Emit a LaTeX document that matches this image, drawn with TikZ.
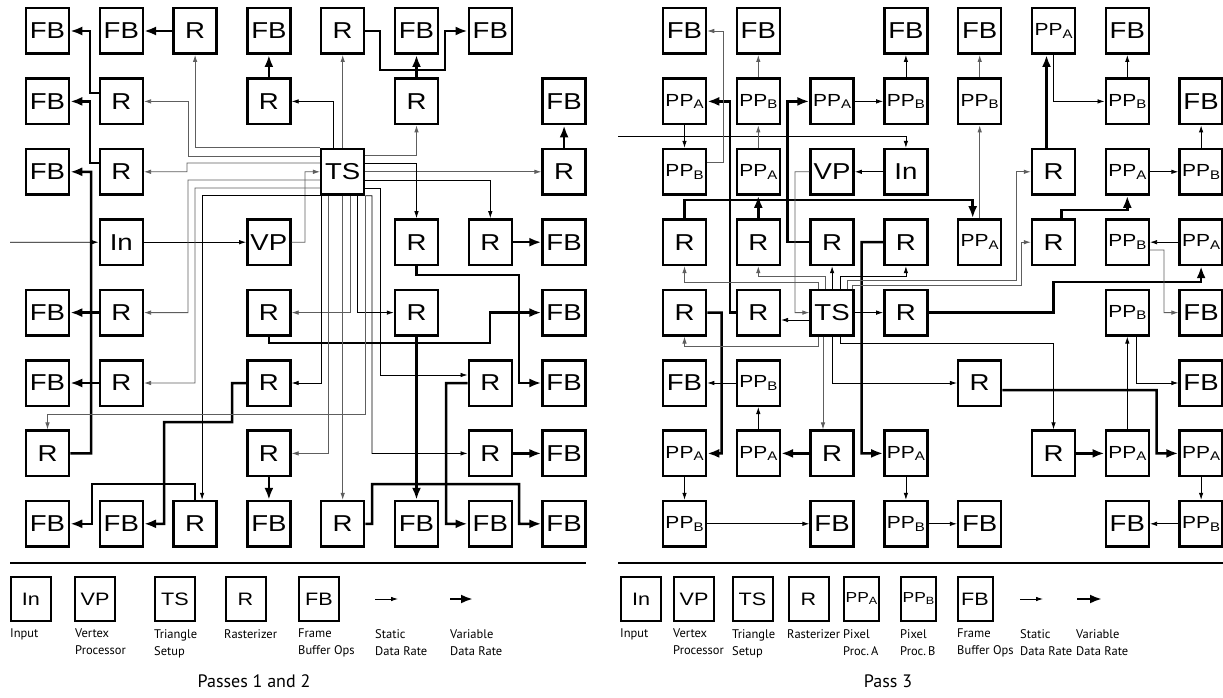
\documentclass[tikz,border=0pt]{standalone}
\usepackage{fontspec}
\usetikzlibrary{arrows.meta}
\setmainfont{Liberation Sans}
\newfontfamily\boxfont[FakeStretch=1.2]{Liberation Sans}
\newfontfamily\lblfont{PT Sans}
\definecolor{linegray}{HTML}{5E5E5E}
% PP_A / PP_B labels
\newcommand{\ppA}{{\fontsize{17.5}{17.5}\selectfont PP\raisebox{-2.5pt}{\fontsize{12.5}{12.5}\selectfont A}}}
\newcommand{\ppB}{{\fontsize{17.5}{17.5}\selectfont PP\raisebox{-2.5pt}{\fontsize{12.5}{12.5}\selectfont B}}}
\newcommand{\legpp}[1]{{\fontsize{14.5}{14.5}\selectfont PP\raisebox{-2pt}{\fontsize{10.5}{10.5}\selectfont #1}}}

\begin{document}
\begin{tikzpicture}[x=1pt, y=-1pt,
  blk/.style={draw, fill=white, line width=2.5pt, minimum width=43pt, minimum height=45.5pt, inner sep=0pt, font=\boxfont\fontsize{23}{23}\selectfont},
  legbox/.style={draw, line width=2pt, minimum width=40pt, minimum height=44pt, inner sep=0pt, font=\boxfont\fontsize{18}{18}\selectfont},
  leglbl/.style={anchor=north west, align=left, inner sep=0pt, font=\lblfont\fontsize{12.5}{17}\selectfont},
  sr/.style={line width=0.8pt, -{Latex[length=7pt,width=4.5pt]}},
  var/.style={line width=2.5pt, -{Latex[length=12pt,width=9pt]}},
  pale/.style={linegray}]
  \useasboundingbox (0,0) rectangle (1223,698);
  \fill[white] (0,0) rectangle (1223,698);

  % Passes 1 and 2
  \foreach \col/\row/\lbl in {1/1/FB, 2/1/FB, 3/1/R, 4/1/FB, 5/1/R, 6/1/FB, 7/1/FB,
      1/2/FB, 2/2/R, 4/2/R, 6/2/R, 8/2/FB,
      1/3/FB, 2/3/R, 5/3/TS, 8/3/R,
      2/4/In, 4/4/VP, 6/4/R, 7/4/R, 8/4/FB,
      1/5/FB, 2/5/R, 4/5/R, 6/5/R, 8/5/FB,
      1/6/FB, 2/6/R, 4/6/R, 7/6/R, 8/6/FB,
      1/7/R, 4/7/R, 7/7/R, 8/7/FB,
      1/8/FB, 2/8/FB, 3/8/R, 4/8/FB, 5/8/R, 6/8/FB, 7/8/FB, 8/8/FB}
    \node[blk] (a\col\row) at ({47.5+73.8*(\col-1)},{31+70.4*(\row-1)}) {\lbl};

  % Pass 3
  \foreach \col/\row/\lbl in {1/1/FB, 2/1/FB, 4/1/FB, 5/1/FB, 6/1/\ppA, 7/1/FB,
      1/2/\ppA, 2/2/\ppB, 3/2/\ppA, 4/2/\ppB, 5/2/\ppB, 7/2/\ppB, 8/2/FB,
      1/3/\ppB, 2/3/\ppA, 3/3/VP, 4/3/In, 6/3/R, 7/3/\ppA, 8/3/\ppB,
      1/4/R, 2/4/R, 3/4/R, 4/4/R, 5/4/\ppA, 6/4/R, 7/4/\ppB, 8/4/\ppA,
      1/5/R, 2/5/R, 3/5/TS, 4/5/R, 7/5/\ppB, 8/5/FB,
      1/6/FB, 2/6/\ppB, 5/6/R, 8/6/FB,
      1/7/\ppA, 2/7/\ppA, 3/7/R, 4/7/\ppA, 6/7/R, 7/7/\ppA, 8/7/\ppA,
      1/8/\ppB, 3/8/FB, 4/8/\ppB, 5/8/FB, 7/8/FB, 8/8/\ppB}
    \node[blk] (b\col\row) at ({684.5+73.8*(\col-1)},{31+70.4*(\row-1)}) {\lbl};

  % passes 1 and 2: variable rate
  \draw[var] (a31.west) -- (a21.east);
  \draw[var] (a22.west |- 0,93) -| (90,31) -- (a11.east);
  \draw[var] (a23.west |- 0,163) -| (90,101.4) -- (a12.east);
  \draw[var] (a17.east) -| (91,171.8) -- (a13.east);
  \draw[var] (a25.west) -- (a15.east);
  \draw[var] (a26.west) -- (a16.east);
  \draw[var] (a42.north) -- (a41.south);
  \draw[var] (a51.east) -| (380,70) -| (445,31) -- (a71.west);
  \draw[var] (a62.north) -- (a61.south);
  \draw[var] (a83.north) -- (a82.south);
  \draw[var] (a74.east) -- (a84.west);
  \draw[var] (a64.south) |- (519,275) |- (a86.west);
  \draw[var] (a45.south) |- (490,343) |- (a85.west);
  \draw[var] (a65.south) -- (a68.north);
  \draw[var] (a76.west) -- (446,383) |- (a78.west);
  \draw[var] (a58.east) -- (372,523.8) |- (519,484) |- (a88.west);
  \draw[var] (a77.east) -- (a87.west);
  \draw[var] (a47.south) -- (a48.north);
  \draw[var] (a46.west) -- (232,383) |- (164,422) |- (a28.east);
  \draw[var] (a38.north) |- (92,484) |- (a18.east);

  % passes 1 and 2: static rate
  \coordinate (inA) at (10,242.2);
  \draw[sr] (inA) -- (a24.west);
  \draw[sr] (a24.east) -- (a44.west);
  \draw[sr,pale] (a44.east) -| (305,171.8) -- (a53.west);
  \draw[sr,pale] (a53.north west) -| (a31.south);
  \draw[sr,pale] (a53.north) -- (a51.south);
  \draw[sr,pale] (a53.west |- 0,156) -| (188,101.4) -- (a22.east);
  \draw[sr] (a53.north -| 333,0) |- (a42.east);
  \draw[sr,pale] (a53.east |- 0,155) -| (a62.south);
  \draw[sr,pale] (a53.west |- 0,163) -| (187,171.8) -- (a23.east);
  \draw[sr,pale] (a53.east) -- (a83.west);
  \draw[sr] (a53.east |- 0,163) -| (a64.north);
  \draw[sr] (a53.east |- 0,180) -| (a74.north);
  \draw[sr] (a53.east |- 0,188) -| (380,375) -- (a76.west |- 0,375);
  \draw[sr,pale] (a53.west |- 0,180) -| (188,312.6) -- (a25.east);
  \draw[sr,pale] (a53.west |- 0,188) -| (195,383) -- (a26.east);
  \draw[sr] (a53.south west) -| ([xshift=7pt]a38.north);
  \draw[sr,pale] (a53.south -| 350,0) |- (a45.east);
  \draw[sr] (a53.south -| 357.7,0) |- (a65.west);
  \draw[sr] (a53.south -| 321,0) |- (a46.east);
  \draw[sr,pale] (a53.south -| 328,0) |- (a47.east);
  \draw[sr,pale] (a53.south) -- (a58.north);
  \draw[sr,pale] (a53.south east) |- (a17.north |- 0,414) -- (a17.north);
  \draw[sr] (a53.south east) -| (372,453.4) -- (a77.west);

  % pass 3: variable rate
  \draw[var] (b14.north) -- (b14.north |- 0,200) -| ([xshift=-7pt]b54.north);
  \draw[var] (b24.north) -- (b23.south);
  \draw[var] (b34.west) -| (787.7,101.4) -- (b32.west);
  \draw[var] (b44.west) -| (861.7,453.4) -- (b47.west);
  \draw[var] ([xshift=-7pt]b63.north) -- ([xshift=-7pt]b61.south);
  \draw[var] ([xshift=8pt]b64.north) |- (b73.south |- 0,210) -- (b73.south);
  \draw[var] (b45.east) -| (1053.3,282) -| (b84.south);
  \draw[var] (b25.west) -| (730,101.4) -- (b12.east);
  \draw[var] (b15.east) -| (721.7,453.4) -- (b17.east);
  \draw[var] (b37.west) -- (b27.east);
  \draw[var] (b56.east |- 0,390) -| (1156.7,453.4) -- (b87.west);
  \draw[var] (b67.east) -- (b77.west);

  % pass 3: static rate
  \coordinate (inB) at (618,136.7);
  \draw[sr] (inB) -| (b43.north);
  \draw[sr] (b43.west) -- (b33.east);
  \draw[sr,pale] (b33.west) -- (795,171.8) |- (b35.west);
  \draw[sr] (b12.south) -- (b13.north);
  \draw[sr,pale] (b13.east |- 0,162) -| (723,31) -- (b11.east);
  \draw[sr,pale] (b22.north) -- (b21.south);
  \draw[sr,pale] (b23.north) -- (b22.south);
  \draw[sr] (b32.east) -- (b42.west);
  \draw[sr] (b42.north) -- (b41.south);
  \draw[sr,pale] (b54.north) -- (b52.south);
  \draw[sr,pale] (b52.north) -- (b51.south);
  \draw[sr] (b61.south) |- (b72.west);
  \draw[sr] (b72.north) -- (b71.south);
  \draw[sr] (b73.east) -- (b83.west);
  \draw[sr] (b83.north) -- (b82.south);
  \draw[sr] (b84.west) -- (b74.east);
  \draw[sr,pale] (b74.east |- 0,250) -| (1164,312.6) -- (b85.west);
  \draw[sr] (b77.north) -- (b75.south);
  \draw[sr] (b75.south -| 1136.7,0) |- (b86.west);
  \draw[sr] (b87.south) -- (b88.north);
  \draw[sr] (b88.west) -- (b78.east);
  \draw[sr] (b17.south) -- (b18.north);
  \draw[sr] (b18.east) -- (b38.west);
  \draw[sr] (b47.south) -- (b48.north);
  \draw[sr] (b48.east) -- (b58.west);
  \draw[sr] (b27.north) -- (b26.south);
  \draw[sr] (b26.west) -- (b16.east);
  \draw[sr,pale] (b35.north -| 818,0) |- (b14.south |- 0,282) -- (b14.south);
  \draw[sr,pale] (b35.north -| 825,0) |- (b24.south |- 0,276) -- (b24.south);
  \draw[sr] (b35.north) -- (b34.south);
  \draw[sr] (b35.north -| 840,0) |- (b44.south |- 0,276) -- (b44.south);
  \draw[sr,pale] (b35.north -| 847,0) |- (1016.7,280) |- (b63.west);
  \draw[sr,pale] (b35.north -| 852,0) |- (1021.7,285) |- (b64.west);
  \draw[sr] (b35.east) -- (b45.west);
  \draw[sr] (b35.west |- 0,320) -- (b25.east |- 0,320);
  \draw[sr,pale] (b35.south -| 818,0) |- (b15.south |- 0,346) -- (b15.south);
  \draw[sr,pale] (b35.south -| 823,0) -- (b37.north -| 823,0);
  \draw[sr] (b35.south) |- (b56.west);
  \draw[sr] (b35.south -| 840,0) |- (b67.north |- 0,343) -- (b67.north);

  % legends
  \draw[line width=2.5pt] (10,563) -- (586,563);
  \draw[line width=2.5pt] (618,563) -- (1223,563);

  \node[legbox] (kIn) at (31,599) {In};
  \node[legbox] (kVP) at (95,599) {VP};
  \node[legbox] (kTS) at (175,599) {TS};
  \node[legbox] (kR) at (245.5,599) {R};
  \node[legbox] (kFB) at (319,599) {FB};
  \coordinate (kS1) at (375,599); \coordinate (kS2) at (398,599);
  \coordinate (kV1) at (450,599); \coordinate (kV2) at (473,599);
  \draw[sr] (kS1) -- (kS2);
  \draw[var] (kV1) -- (kV2);
  \node[leglbl] (tIn) at (10,629) {Input};
  \node[leglbl] (tVP) at (75,629) {Vertex\\Processor};
  \node[leglbl] (tTS) at (154,629) {Triangle\\Setup};
  \node[leglbl] (tR) at (224,629) {Rasterizer};
  \node[leglbl] (tFB) at (298,629) {Frame\\Buffer Ops};
  \node[leglbl] (tS) at (375,629) {Static\\Data Rate};
  \node[leglbl] (tV) at (450,629) {Variable\\Data Rate};
  \node[font=\lblfont\fontsize{18}{18}\selectfont, anchor=base] (capA) at (254,687) {Passes 1 and 2};

  \node[legbox] (mIn) at (641,599) {In};
  \node[legbox] (mVP) at (694,599) {VP};
  \node[legbox] (mTS) at (752.5,599) {TS};
  \node[legbox] (mR) at (808.5,599) {R};
  \node[legbox, minimum width=35pt] (mPA) at (861.5,599) {\legpp{A}};
  \node[legbox, minimum width=35pt] (mPB) at (918.5,599) {\legpp{B}};
  \node[legbox, minimum width=35pt] (mFB) at (975,599) {FB};
  \coordinate (mS1) at (1020,599); \coordinate (mS2) at (1043,599);
  \coordinate (mV1) at (1077,599); \coordinate (mV2) at (1102,599);
  \draw[sr] (mS1) -- (mS2);
  \draw[var] (mV1) -- (mV2);
  \node[leglbl] (uIn) at (620,629) {Input};
  \node[leglbl] (uVP) at (673,629) {Vertex\\Processor};
  \node[leglbl] (uTS) at (732,629) {Triangle\\Setup};
  \node[leglbl] (uR) at (787,629) {Rasterizer};
  \node[leglbl] (uPA) at (843,629) {Pixel\\Proc.\,A};
  \node[leglbl] (uPB) at (900,629) {Pixel\\Proc.\,B};
  \node[leglbl] (uFB) at (957,629) {Frame\\Buffer Ops};
  \node[leglbl] (uS) at (1020,629) {Static\\Data Rate};
  \node[leglbl] (uV) at (1076,629) {Variable\\Data Rate};
  \node[font=\lblfont\fontsize{18}{18}\selectfont, anchor=base] (capB) at (888,687) {Pass 3};
\end{tikzpicture}
\end{document}
